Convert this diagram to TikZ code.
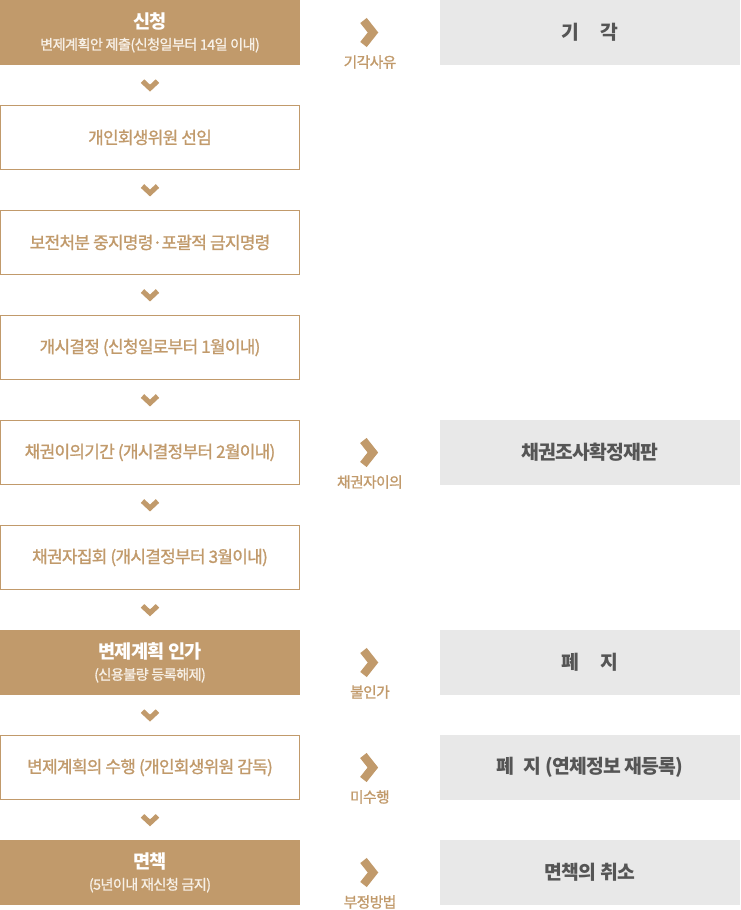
\documentclass[tikz,border=0pt]{standalone}
\usepackage{fontspec}
\setmainfont{Noto Sans CJK KR}[LetterSpace=-4]
\newfontfamily\medfont{Noto Sans CJK KR}[LetterSpace=-4, FakeBold=1.2]
\usetikzlibrary{calc}
\definecolor{brn}{HTML}{C19A6B}
\definecolor{grayfill}{HTML}{E8E8E8}
\definecolor{graytext}{HTML}{555555}
\definecolor{subwhite}{HTML}{F7F0E6}
\begin{document}
\begin{tikzpicture}[x=0.75pt,y=-0.75pt,
  whitebox/.style={draw=brn, line width=0.75pt, fill=white, minimum width=224.25pt, minimum height=48pt, inner sep=0pt, text=brn, font=\medfont\fontsize{12.7}{15}\selectfont, align=center},
  brownbox/.style={fill=brn, minimum width=225pt, minimum height=48.75pt, inner sep=0pt, align=center, text=white},
  graybox/.style={fill=grayfill, minimum width=225pt, minimum height=48.75pt, inner sep=0pt, text=graytext, font=\fontsize{14.5}{17}\selectfont\bfseries},
  downchev/.style={draw=brn, line width=3.8pt, line join=miter, line cap=butt},
  rightchev/.style={draw=brn, line width=6.2pt, line join=miter, line cap=butt},
  reason/.style={text=brn, font=\medfont\fontsize{11.1}{13}\selectfont, inner sep=0pt}
]
\useasboundingbox (0,0) rectangle (740,910);

% left column
\node[brownbox] (s1) at (150,32.5) {{\fontsize{14}{16}\selectfont\bfseries 신청}\\[4pt]{\medfont\fontsize{10.6}{13}\selectfont\color{subwhite}변제계획안 제출(신청일부터 14일 이내)}};
\node[whitebox] (s2) at (150,137.5) {개인회생위원 선임};
\node[whitebox] (s3) at (150,242.5) {보전처분 중지명령·포괄적 금지명령};
\node[whitebox] (s4) at (150,347.5) {개시결정 (신청일로부터 1월이내)};
\node[whitebox] (s5) at (150,452.5) {채권이의기간 (개시결정부터 2월이내)};
\node[whitebox] (s6) at (150,557.5) {채권자집회 (개시결정부터 3월이내)};
\node[brownbox] (s7) at (150,662.5) {{\fontsize{14}{16}\selectfont\bfseries 변제계획 인가}\\[4pt]{\medfont\fontsize{10.6}{13}\selectfont\color{subwhite}(신용불량 등록해제)}};
\node[whitebox] (s8) at (150,767.5) {변제계획의 수행 (개인회생위원 감독)};
\node[brownbox] (s9) at (150,872.5) {{\fontsize{14}{16}\selectfont\bfseries 면책}\\[4pt]{\medfont\fontsize{10.6}{13}\selectfont\color{subwhite}(5년이내 재신청 금지)}};

% down chevrons between steps
\foreach \a/\b in {s1/s2,s2/s3,s3/s4,s4/s5,s5/s6,s6/s7,s7/s8,s8/s9}{
  \coordinate (m\a) at ($(\a.south)!0.5!(\b.north)$);
  \draw[downchev] ($(m\a)+(-7.5,-4)$) -- ($(m\a)+(0,3)$) -- ($(m\a)+(7.5,-4)$);
}

% right column
\node[graybox] (r1) at (590,32.5) {기\hspace{1.1em}각};
\node[graybox] (r5) at (590,452.5) {채권조사확정재판};
\node[graybox] (r7) at (590,662.5) {폐\hspace{1.1em}지};
\node[graybox] (r8) at (590,767.5) {폐\hspace{0.5em}지 (연체정보 재등록)};
\node[graybox] (r9) at (590,872.5) {면책의 취소};

% right chevrons with reasons
\foreach \s/\r/\t in {s1/r1/기각사유,s5/r5/채권자이의,s7/r7/불인가,s8/r8/미수행,s9/r9/부정방법}{
  \coordinate (c\s) at ($(\s.east)!0.5!(\r.west)$);
  \draw[rightchev] ($(c\s)+(-6.5,-12)$) -- ($(c\s)+(3,0)$) -- ($(c\s)+(-6.5,12)$);
  \node[reason] (l\s) at ($(c\s)+(0,29.5)$) {\t};
}
\end{tikzpicture}
\end{document}
